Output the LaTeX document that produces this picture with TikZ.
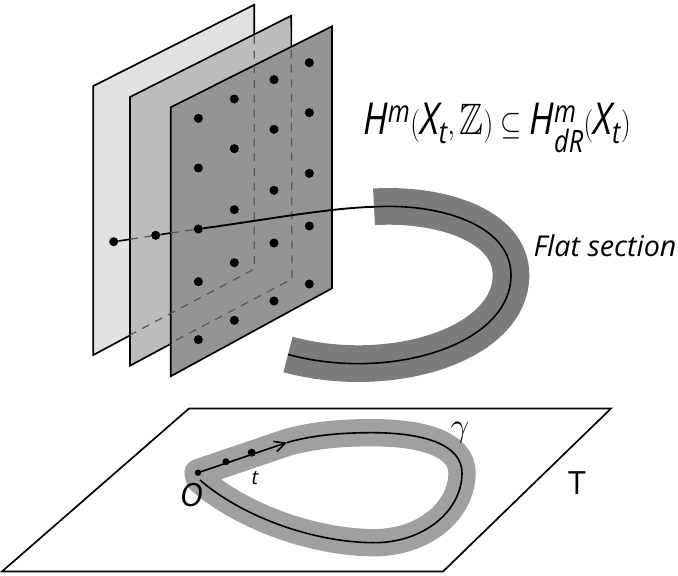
\documentclass[tikz,border=0pt]{standalone}
\usepackage{amsmath,amssymb}
\usepackage{fontspec}
\setmainfont{Open Sans}
\usepackage{xcolor}
\usetikzlibrary{arrows.meta,positioning}
\definecolor{fibreA}{HTML}{E2E2E2}
\definecolor{fibreB}{HTML}{BCBCBC}
\definecolor{fibreC}{HTML}{949494}
\definecolor{bandtop}{HTML}{7C7C7C}
\definecolor{bandbot}{HTML}{A0A0A0}
\newcommand{\looppath}{(tip) .. controls (310,436) and (335,433) .. (367,432.7) .. controls (425,432) and (462,445) .. (462,473) .. controls (462,510) and (425,543) .. (373,542.7) .. controls (310,542) and (240,515) .. (200,480)}
\begin{document}
\begin{tikzpicture}[
    x=0.75pt, y=-0.75pt,
    fibre/.style={draw=black, line width=1.25pt, line join=miter},
    hidden/.style={draw=black!65, line width=0.95pt, dash pattern=on 6pt off 5pt},
    dot/.style={circle, fill=black, inner sep=0pt, minimum size=6.8pt},
    smalldot/.style={circle, fill=black, inner sep=0pt, minimum size=5.2pt},
    curve/.style={draw=black, line width=1.2pt},
    lbl/.style={font=\itshape, inner sep=0pt}
]
\useasboundingbox (0,0) rectangle (678,575);

% the three fibres
\draw[fibre, fill=fibreA] (93.3,86) -- (254.3,4.7) -- (254.3,269) -- (93.3,355) -- cycle;
\draw[fibre, fill=fibreB] (130,97) -- (291.3,15.7) -- (292,279) -- (130,365.7) -- cycle;
\draw[fibre, fill=fibreC] (170.7,107.3) -- (332,26.3) -- (332,288.3) -- (170.7,376.3) -- cycle;

% edges seen through
\draw[hidden] (254.3,36) -- (254.3,269) -- (130,335);
\draw[hidden] (291.3,50) -- (292,279) -- (170.7,343);

% lattice points
\foreach \px/\py [count=\i] in {355/355,463/297,582/239,688/188,355/504,463/446,582/388,688/338,
    463/629,582/571,688/520,582/729,688/678,355/845,463/788,688/852,582/903,463/961,355/1019}
    \node[dot] (lat\i) at ({80+\px/3},{\py/3}) {};

% flat section
\coordinate (secA) at (374,206.8);
\coordinate (secB) at (511,275);
\coordinate (secC) at (288,354.5);
\draw[bandtop, line width=27.5pt] (secA) .. controls (440,203) and (511,225) .. (secB)
    .. controls (511,345) and (390,382) .. (secC);
\node[dot] (ptA) at (113.7,241.7) {};
\node[dot] (ptB) at (155.7,235.3) {};
\node[dot] (ptC) at (198.3,229) {};
\coordinate (edgeB) at (130,239.3);
\coordinate (edgeC) at (170.7,233);
\draw[curve] (ptA) -- (edgeB);
\draw[hidden] (edgeB) -- (ptB);
\draw[curve] (ptB) -- (edgeC);
\draw[hidden] (edgeC) -- (ptC);
\draw[curve, line width=1.4pt] (ptC) .. controls (270,219) and (330,208) .. (secA);
\draw[curve] (secA) .. controls (440,203) and (511,225) .. (secB)
    .. controls (511,345) and (390,382) .. (secC);

\node[lbl] (coh) at (497,128) {\fontsize{33}{38}\selectfont\scalebox{0.82}[1]{$\mathit{H}^{\mathit{m}}(\mathit{X}_{\mathit{t}},\mathbb{Z})\subseteq \mathit{H}^{\mathit{m}}_{\mathit{dR}}(\mathit{X}_{\mathit{t}})$}};
\node[lbl] (flat) at (605,246) {\fontsize{21.5}{26}\selectfont Flat section};

% base
\draw[fibre] (189,408.5) -- (611,408.5) -- (443,571.5) -- (2,571.5) -- cycle;
\coordinate (orig) at (198,472.7);
\coordinate (tip) at (287,442.5);
\draw[bandbot, line width=20.5pt, line join=round] (orig) -- \looppath -- cycle;
\draw[curve] \looppath;
\draw[curve, -{Straight Barb[length=8pt,width=8pt]}] (orig) -- (tip);
\node[smalldot, minimum size=4.8pt] (ptO) at (orig) {};
\node[dot, minimum size=6pt] (ptT) at (251.7,452.7) {};
\node[smalldot] (ptS) at (226,461.7) {};

\node[lbl] (labO) at (191.5,495) {\fontsize{24}{28}\selectfont O};
\node[lbl] (labT) at (255,478) {\fontsize{15}{18}\selectfont t};
\node[lbl] (labG) at (460,433) {\fontsize{28}{32}\selectfont $\gamma$};
\node[lbl, font=\upshape] (labB) at (577,483) {\fontsize{24}{28}\selectfont T};
\end{tikzpicture}
\end{document}
